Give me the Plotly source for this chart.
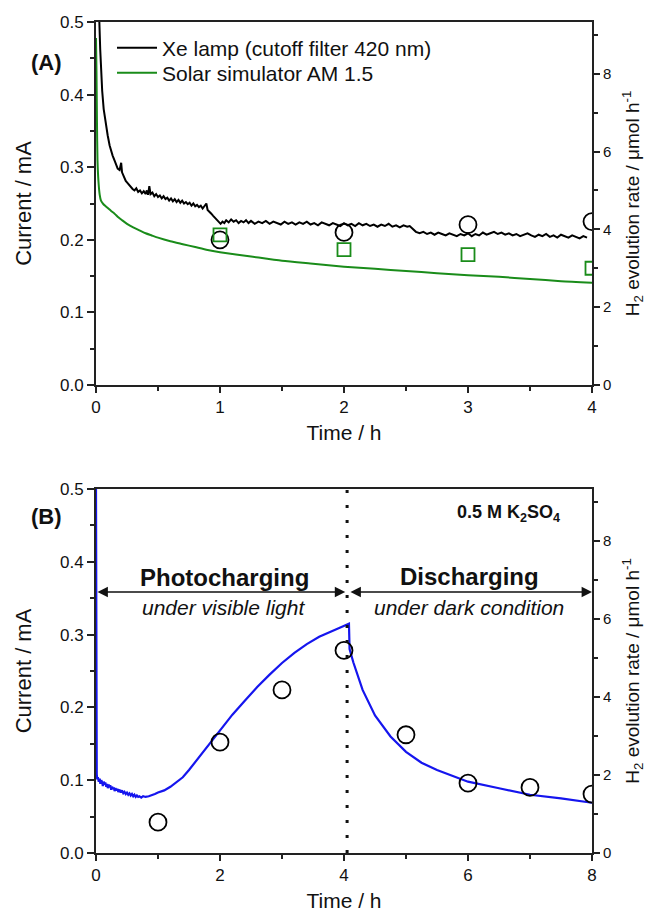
import plotly.graph_objects as go

# ---------------- Data: panel A ----------------
xe_t = [0.02, 0.027, 0.034, 0.04, 0.05, 0.062, 0.075, 0.094, 0.11, 0.122, 0.134, 0.15, 0.162, 0.175,
        0.19, 0.197, 0.203, 0.21, 0.22, 0.23, 0.24, 0.25, 0.265, 0.28, 0.295, 0.31, 0.325, 0.34,
        0.355, 0.37, 0.385, 0.40, 0.41, 0.42, 0.43, 0.44, 0.455, 0.47, 0.485, 0.50, 0.515, 0.53,
        0.545, 0.56, 0.575, 0.59, 0.605, 0.62, 0.635, 0.65, 0.665, 0.68, 0.695, 0.71, 0.725, 0.74,
        0.755, 0.77, 0.785, 0.80, 0.815, 0.83, 0.845, 0.86, 0.875, 0.89, 0.90, 0.915, 0.93, 0.945,
        0.96, 0.975, 0.99, 1.005, 1.02, 1.035, 1.05, 1.07, 1.09, 1.11, 1.13, 1.15, 1.17, 1.19, 1.21,
        1.23, 1.25, 1.28, 1.31, 1.34, 1.37, 1.40, 1.43, 1.46, 1.49, 1.52, 1.55, 1.58, 1.61, 1.64,
        1.67, 1.70, 1.73, 1.76, 1.79, 1.82, 1.85, 1.88, 1.91, 1.94, 1.97, 2.00, 2.03, 2.06, 2.09,
        2.12, 2.15, 2.18, 2.21, 2.24, 2.27, 2.30, 2.33, 2.36, 2.39, 2.42, 2.45, 2.48, 2.51, 2.53,
        2.55, 2.58, 2.61, 2.64, 2.67, 2.70, 2.73, 2.76, 2.79, 2.82, 2.85, 2.88, 2.91, 2.94, 2.97,
        3.00, 3.03, 3.06, 3.09, 3.12, 3.15, 3.18, 3.21, 3.24, 3.27, 3.30, 3.33, 3.36, 3.39, 3.42,
        3.45, 3.48, 3.51, 3.54, 3.57, 3.60, 3.63, 3.66, 3.69, 3.72, 3.75, 3.78, 3.81, 3.84, 3.87,
        3.90, 3.93, 3.96, 4.00]
xe_i = [0.520, 0.500, 0.462, 0.431, 0.405, 0.380, 0.362, 0.344, 0.330, 0.322, 0.316, 0.309, 0.303, 0.298,
        0.296, 0.301, 0.306, 0.293, 0.288, 0.285, 0.281, 0.279, 0.276, 0.272, 0.270, 0.268, 0.271, 0.266,
        0.268, 0.264, 0.267, 0.263, 0.268, 0.262, 0.274, 0.263, 0.265, 0.260, 0.263, 0.259, 0.261, 0.257,
        0.260, 0.256, 0.258, 0.254, 0.257, 0.253, 0.256, 0.252, 0.255, 0.251, 0.254, 0.250, 0.252, 0.249,
        0.251, 0.247, 0.250, 0.246, 0.248, 0.245, 0.247, 0.243, 0.246, 0.250, 0.241, 0.239, 0.236, 0.233,
        0.230, 0.227, 0.224, 0.222, 0.225, 0.223, 0.227, 0.224, 0.228, 0.225, 0.227, 0.223, 0.226, 0.224,
        0.227, 0.223, 0.226, 0.222, 0.225, 0.223, 0.226, 0.222, 0.225, 0.223, 0.221, 0.225, 0.222, 0.224,
        0.221, 0.224, 0.222, 0.225, 0.221, 0.223, 0.220, 0.224, 0.222, 0.220, 0.223, 0.221, 0.219, 0.223,
        0.220, 0.222, 0.219, 0.223, 0.220, 0.222, 0.219, 0.221, 0.218, 0.221, 0.219, 0.222, 0.218, 0.220,
        0.217, 0.220, 0.218, 0.219, 0.216, 0.211, 0.209, 0.211, 0.208, 0.210, 0.207, 0.210, 0.208, 0.206,
        0.209, 0.207, 0.205, 0.208, 0.206, 0.209, 0.205, 0.208, 0.206, 0.210, 0.207, 0.209, 0.211, 0.208,
        0.210, 0.207, 0.209, 0.206, 0.208, 0.205, 0.207, 0.209, 0.206, 0.204, 0.207, 0.205, 0.208, 0.204,
        0.206, 0.203, 0.207, 0.205, 0.203, 0.206, 0.204, 0.202, 0.205, 0.203]

solar_t = [0.0, 0.004, 0.008, 0.012, 0.02, 0.03, 0.04, 0.06, 0.08, 0.10, 0.12, 0.15, 0.18, 0.21, 0.25,
           0.3, 0.35, 0.4, 0.45, 0.5, 0.6, 0.7, 0.8, 0.9, 1.0, 1.25, 1.5, 1.75, 2.0, 2.25, 2.5, 2.75,
           3.0, 3.25, 3.5, 3.75, 4.0]
solar_i = [0.478, 0.43, 0.36, 0.31, 0.28, 0.262, 0.254, 0.249, 0.246, 0.243, 0.240, 0.236, 0.231, 0.227,
           0.222, 0.217, 0.213, 0.209, 0.206, 0.203, 0.198, 0.194, 0.190, 0.186, 0.183, 0.177, 0.171,
           0.167, 0.163, 0.160, 0.157, 0.154, 0.151, 0.149, 0.146, 0.143, 0.141]

h2_xe_t = [1, 2, 3, 4]
h2_xe = [3.73, 3.92, 4.12, 4.20]
h2_solar_t = [1, 2, 3, 4]
h2_solar = [3.86, 3.48, 3.35, 3.00]

# ---------------- Data: panel B ----------------
b_t = [0.0, 0.003, 0.012, 0.02, 0.03, 0.045, 0.06, 0.07, 0.085, 0.10, 0.11, 0.125, 0.14, 0.15, 0.165,
       0.18, 0.19, 0.205, 0.22, 0.23, 0.245, 0.26, 0.275, 0.29, 0.30, 0.315, 0.33, 0.345, 0.36, 0.38,
       0.40, 0.42, 0.44, 0.46, 0.48, 0.50, 0.52, 0.54, 0.56, 0.58, 0.60, 0.62, 0.64, 0.66, 0.68,
       0.70, 0.73, 0.76, 0.80, 0.85, 0.90, 0.95, 1.00, 1.10, 1.20, 1.30, 1.40, 1.50, 1.60, 1.70,
       1.80, 1.90, 2.00, 2.20, 2.40, 2.60, 2.80, 3.00, 3.20, 3.40, 3.60, 3.80, 3.95, 4.08, 4.09,
       4.15, 4.30, 4.50, 4.75, 5.00, 5.25, 5.50, 5.75, 6.00, 6.50, 7.00, 7.50, 8.00]
b_i = [0.500, 0.120, 0.108, 0.101, 0.104, 0.098, 0.102, 0.095, 0.100, 0.097, 0.092, 0.098, 0.094, 0.097,
       0.091, 0.095, 0.089, 0.094, 0.090, 0.093, 0.087, 0.091, 0.088, 0.090, 0.085, 0.089, 0.086, 0.088,
       0.084, 0.087, 0.083, 0.086, 0.082, 0.084, 0.081, 0.083, 0.080, 0.082, 0.079, 0.081, 0.078, 0.080,
       0.077, 0.079, 0.077, 0.078, 0.076, 0.078, 0.077, 0.078, 0.079, 0.081, 0.083, 0.086, 0.091, 0.097,
       0.104, 0.114, 0.125, 0.136, 0.147, 0.158, 0.169, 0.190, 0.209, 0.228, 0.245, 0.261, 0.275, 0.287,
       0.297, 0.305, 0.310, 0.315, 0.280, 0.262, 0.224, 0.189, 0.160, 0.139, 0.124, 0.114, 0.106, 0.098,
       0.089, 0.080, 0.075, 0.069]

h2_b_t = [1, 2, 3, 4, 5, 6, 7, 8]
h2_b = [0.79, 2.84, 4.18, 5.19, 3.03, 1.79, 1.68, 1.51]

# page body has an 8px margin: the figure is placed at (8, 8) in the 652x916 window
OFF = 8
W, H = 652 - OFF, 916 - OFF
FONT = "Liberation Sans, Arial, sans-serif"
AX = "#222222"

# plot-area boxes in window pixels
xl, xr = 96, 592
a_top, a_bot = 22, 385
b_top, b_bot = 489, 853

def px(v):
    return (v - OFF) / W

def py(v):
    return 1 - (v - OFF) / H

fig = go.Figure()

fig.add_trace(go.Scatter(x=xe_t, y=xe_i, mode="lines", line=dict(color="black", width=2),
                         name="Xe lamp (cutoff filter 420 nm)", legend="legend", xaxis="x", yaxis="y"))
fig.add_trace(go.Scatter(x=solar_t, y=solar_i, mode="lines",
                         line=dict(color="#1a8c1a", width=2, shape="spline", smoothing=0.6),
                         name="Solar simulator AM 1.5", legend="legend2", xaxis="x", yaxis="y"))
fig.add_trace(go.Scatter(x=h2_xe_t, y=h2_xe, mode="markers", showlegend=False,
                         marker=dict(symbol="circle-open", size=17, color="black", line=dict(width=1.8)),
                         xaxis="x", yaxis="y2"))
fig.add_trace(go.Scatter(x=h2_solar_t, y=h2_solar, mode="markers", showlegend=False,
                         marker=dict(symbol="square-open", size=13, color="#1a8c1a", line=dict(width=1.8)),
                         xaxis="x", yaxis="y2"))

fig.add_trace(go.Scatter(x=b_t, y=b_i, mode="lines", line=dict(color="#1515ee", width=2.2),
                         showlegend=False, xaxis="x2", yaxis="y3"))
fig.add_trace(go.Scatter(x=h2_b_t, y=h2_b, mode="markers", showlegend=False,
                         marker=dict(symbol="circle-open", size=17, color="black", line=dict(width=1.8)),
                         xaxis="x2", yaxis="y4"))

RMAX = 0.5e-3 * 3600 / (2 * 96485) * 1e6  # mA -> umol/h equivalence of right axis

tickfont = dict(family=FONT, size=17, color="#111")

def xaxis_common(dom_anchor, rng, dtick, minor):
    return dict(domain=[px(xl), px(xr)], anchor=dom_anchor, range=rng, dtick=dtick, tick0=0,
                automargin=False,
                showline=True, linecolor=AX, linewidth=1.8, mirror=True,
                ticks="outside", ticklen=6, tickwidth=1.5, tickcolor=AX,
                minor=dict(dtick=minor, ticks="outside", ticklen=4, tickwidth=1.5, tickcolor=AX),
                showgrid=False, zeroline=False, tickfont=tickfont,
                title=dict(text="Time / h", font=dict(family=FONT, size=21, color="#111"), standoff=9))

def yaxis_left(dom, anchor):
    return dict(domain=dom, anchor=anchor, range=[0, 0.5], dtick=0.1, tick0=0, tickformat=".1f",
                automargin=False,
                showline=True, linecolor=AX, linewidth=1.8,
                ticks="outside", ticklen=7, tickwidth=1.5, tickcolor=AX,
                minor=dict(dtick=0.05, ticks="outside", ticklen=4, tickwidth=1.5, tickcolor=AX),
                showgrid=False, zeroline=False, tickfont=tickfont,
                title=dict(text="Current / mA", font=dict(family=FONT, size=22, color="#111"), standoff=22))

def yaxis_right(overlay, anchor):
    return dict(overlaying=overlay, anchor=anchor, side="right", range=[0, RMAX], dtick=2, tick0=0,
                automargin=False,
                showline=True, linecolor=AX, linewidth=1.8,
                ticks="outside", ticklen=6, tickwidth=1.5, tickcolor=AX,
                minor=dict(dtick=1, ticks="outside", ticklen=4, tickwidth=1.5, tickcolor=AX),
                showgrid=False, zeroline=False, tickfont=dict(family=FONT, size=15, color="#111"),
                title=dict(text="H<sub>2</sub> evolution rate / \u03bcmol h<sup>-1</sup>",
                           font=dict(family=FONT, size=19, color="#111"), standoff=15))

legfont = dict(family=FONT, size=21, color="#111")
fig.update_layout(
    template="none",
    width=W, height=H, margin=dict(l=0, r=0, t=0, b=0, autoexpand=False),
    paper_bgcolor="white", plot_bgcolor="white",
    font=dict(family=FONT, color="#111"),
    xaxis=xaxis_common("y", [0, 4], 1, 0.5),
    yaxis=yaxis_left([py(a_bot), py(a_top)], "x"),
    yaxis2=yaxis_right("y", "x"),
    xaxis2=xaxis_common("y3", [0, 8], 2, 1),
    yaxis3=yaxis_left([py(b_bot), py(b_top)], "x2"),
    yaxis4=yaxis_right("y3", "x2"),
    legend=dict(x=px(112), y=py(48), xanchor="left", yanchor="middle", bgcolor="rgba(0,0,0,0)",
                font=legfont, itemwidth=40),
    legend2=dict(x=px(112), y=py(73), xanchor="left", yanchor="middle", bgcolor="rgba(0,0,0,0)",
                 font=legfont, itemwidth=40),
    showlegend=True,
)

# panel labels
fig.add_annotation(text="<b>(A)</b>", xref="paper", yref="paper", x=px(28.5), y=py(48.5),
                   showarrow=False, font=dict(family=FONT, size=22, color="#111"))
fig.add_annotation(text="<b>(B)</b>", xref="paper", yref="paper", x=px(28.5), y=py(516),
                   showarrow=False, font=dict(family=FONT, size=22, color="#111"))

# panel B annotations
fig.add_shape(type="line", xref="x2", yref="y3", x0=4.05, x1=4.05, y0=0, y1=0.5,
              line=dict(color="#111", width=3, dash="3px,12px"))
for (x0, x1) in [(0.0, 4.02), (4.08, 8.0)]:
    fig.add_annotation(xref="x2", yref="y3", axref="x2", ayref="y3", x=x1, y=0.3585, ax=x0, ay=0.3585,
                       text="", showarrow=True, arrowhead=2, arrowside="end+start", arrowsize=1.3,
                       arrowwidth=1.6, arrowcolor="#111", standoff=0, startstandoff=0)
fig.add_annotation(xref="x2", yref="y3", x=2.07, y=0.379, text="<b>Photocharging</b>", showarrow=False,
                   font=dict(family=FONT, size=24, color="#111"))
fig.add_annotation(xref="x2", yref="y3", x=2.05, y=0.337, text="<i>under visible light</i>", showarrow=False,
                   font=dict(family=FONT, size=21, color="#111"))
fig.add_annotation(xref="x2", yref="y3", x=6.02, y=0.380, text="<b>Discharging</b>", showarrow=False,
                   font=dict(family=FONT, size=24, color="#111"))
fig.add_annotation(xref="x2", yref="y3", x=6.02, y=0.337, text="<i>under dark condition</i>", showarrow=False,
                   font=dict(family=FONT, size=21, color="#111"))
fig.add_annotation(xref="x2", yref="y3", x=6.65, y=0.467, text="<b>0.5 M K<sub>2</sub>SO<sub>4</sub></b>",
                   showarrow=False, font=dict(family=FONT, size=18, color="#111"))

fig.write_html("out.html")
